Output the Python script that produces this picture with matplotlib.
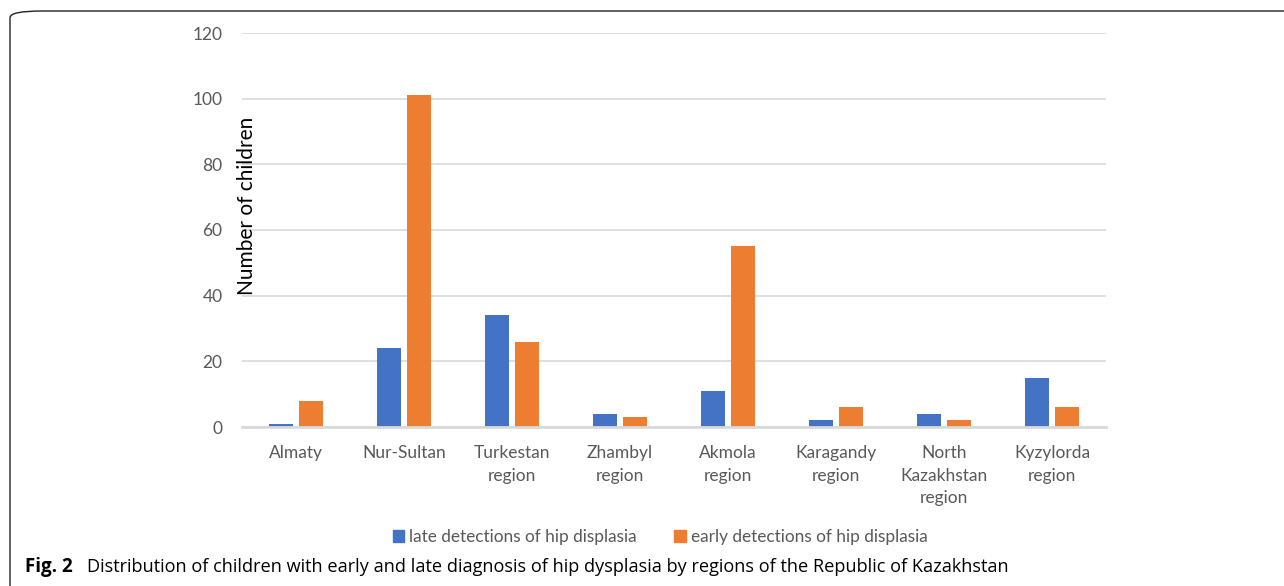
import numpy as np
import matplotlib
matplotlib.use("Agg")
import matplotlib.pyplot as plt
from matplotlib.patches import FancyBboxPatch, Patch

regions = ["Almaty", "Nur-Sultan", "Turkestan\nregion", "Zhambyl\nregion",
           "Akmola\nregion", "Karagandy\nregion", "North\nKazakhstan\nregion",
           "Kyzylorda\nregion"]
late = [1, 24, 34, 4, 11, 2, 4, 15]
early = [8, 101, 26, 3, 55, 6, 2, 6]
yticks = [0, 20, 40, 60, 80, 100, 120]

blue = "#4472C4"
orange = "#ED7D31"
grey_txt = "#595959"
grid_c = "#d9d9d9"

plt.rcParams['font.family'] = ['Lato', 'DejaVu Sans']

fig = plt.figure(figsize=(12.84, 5.86), dpi=100)

# rounded border round the whole figure
frame = FancyBboxPatch((10 / 1284, -0.05), 1.2, 1 - 11 / 586 + 0.05,
                       boxstyle="round,pad=0,rounding_size=0.025",
                       transform=fig.transFigure, fill=False,
                       edgecolor="#222222", linewidth=1.0, mutation_aspect=586 / 1284)
fig.patches.append(frame)

ax = fig.add_axes([242 / 1284, 1 - 427 / 586, 864 / 1284, 394 / 586])
x = np.arange(len(regions))
w = 0.225
ax.bar(x - 0.14, late, w, color=blue, zorder=3, label="late detections of hip displasia")
ax.bar(x + 0.14, early, w, color=orange, zorder=3, label="early detections of hip displasia")

ax.set_xlim(-0.5, len(regions) - 0.5)
ax.set_ylim(0, 120)
ax.set_yticks(yticks)
ax.yaxis.grid(True, color=grid_c, linewidth=1.2, zorder=0)
for s in ["top", "right", "left"]:
    ax.spines[s].set_visible(False)
ax.spines["bottom"].set_color(grid_c)
ax.spines["bottom"].set_linewidth(2)
ax.spines["bottom"].set_zorder(4)
ax.tick_params(axis="both", length=0, labelsize=12.5, labelcolor=grey_txt)
ax.tick_params(axis="y", pad=14)
ax.tick_params(axis="x", pad=13)
ax.set_xticks(x)
ax.set_xticklabels(regions, linespacing=1.5)

fig.text(247 / 1284, 1 - 206 / 586, "Number of children", rotation=90,
         ha="center", va="center", fontsize=15, color="#000000")

handles = [Patch(color=blue), Patch(color=orange)]
fig.legend(handles, ["late detections of hip displasia", "early detections of hip displasia"],
           loc="center", bbox_to_anchor=(660 / 1284, 1 - 537 / 586), ncol=2,
           frameon=False, fontsize=12.4, handlelength=0.65, handleheight=0.65,
           handletextpad=0.3, columnspacing=2.2, labelcolor=grey_txt)

fig.text(25 / 1284, 1 - 567 / 586, "Fig. 2", fontsize=13.5, fontweight="bold",
         family=["Open Sans", "DejaVu Sans"], va="center", ha="left")
fig.text(87 / 1284, 1 - 567 / 586,
         "Distribution of children with early and late diagnosis of hip dysplasia by regions of the Republic of Kazakhstan",
         fontsize=13.1, family=["Open Sans", "DejaVu Sans"], va="center", ha="left")

fig.savefig("out.png", dpi=100)
